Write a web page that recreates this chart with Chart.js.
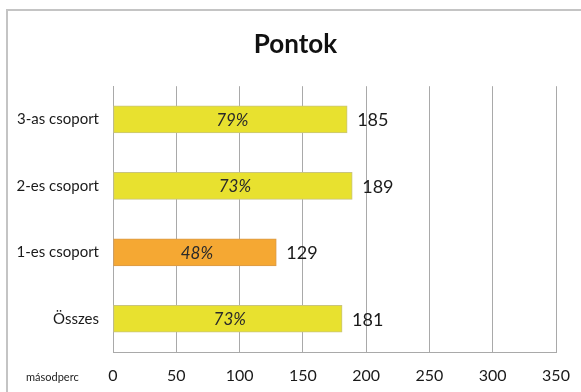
<!DOCTYPE html>
<html>
<head>
<meta charset="utf-8">
<script src="https://cdn.jsdelivr.net/npm/chart.js@4"></script>
<style>
  html, body { margin: 0; padding: 0; background: #fff; overflow: hidden; }
  #wrap { position: relative; width: 581px; height: 392px; overflow: hidden; }
  #frame { position: absolute; left: 6px; top: 9px; width: 700px; height: 500px; border-left: 2px solid #c4c4c4; border-top: 2px solid #c4c4c4; }
  canvas { position: absolute; left: 0; top: 0; }
</style>
</head>
<body>
<div id="wrap">
  <div id="frame"></div>
  <canvas id="chart" width="581" height="392"></canvas>
</div>
<script>
const categories = ['3-as csoport', '2-es csoport', '1-es csoport', 'Összes'];
const seconds = [185, 189, 129, 181];
const shares = ['79%', '73%', '48%', '73%'];
const xTicks = [0, 50, 100, 150, 200, 250, 300, 350];
const axisUnit = 'másodperc';

const yellow = '#e8e12f';
const orange = '#f5a833';
const barColors = [yellow, yellow, orange, yellow];
const edgeColors = ['#c9c47e', '#c9c47e', '#d99a4a', '#c9c47e'];
const gridColor = '#a9a9a9';

// value + percentage labels, and the unit text left of the x ticks
const barLabels = {
  id: 'barLabels',
  afterDatasetsDraw(chart) {
    const ctx = chart.ctx;
    const meta = chart.getDatasetMeta(0);
    ctx.save();
    ctx.textBaseline = 'middle';
    meta.data.forEach((bar, i) => {
      ctx.font = 'italic 17px Lato';
      ctx.fillStyle = '#2a2a2a';
      ctx.textAlign = 'center';
      ctx.fillText(shares[i], (bar.x + bar.base) / 2 + 2, bar.y + 1);
      ctx.font = '18px Lato';
      ctx.fillStyle = '#1a1a1a';
      ctx.textAlign = 'left';
      ctx.fillText(String(seconds[i]), bar.x + 10, bar.y + 1);
    });
    ctx.font = '11px Lato';
    ctx.fillStyle = '#222';
    ctx.textAlign = 'left';
    ctx.fillText(axisUnit, 26, chart.chartArea.bottom + 25);
    ctx.restore();
  }
};

function draw() {
  Chart.defaults.font.family = 'Lato';
  new Chart(document.getElementById('chart'), {
    type: 'bar',
    data: {
      labels: categories,
      datasets: [{
        data: seconds,
        backgroundColor: barColors,
        borderColor: edgeColors,
        borderWidth: 1,
        borderSkipped: false,
        barThickness: 27
      }]
    },
    options: {
      indexAxis: 'y',
      responsive: false,
      animation: false,
      layout: { padding: { left: 10, right: 0, top: 0, bottom: 0 } },
      plugins: {
        legend: { display: false },
        tooltip: { enabled: false },
        title: {
          display: true,
          text: 'Pontok',
          color: '#111',
          font: { family: 'Lato', size: 26, weight: 'bold' },
          padding: { top: 29, bottom: 26 }
        }
      },
      scales: {
        x: {
          min: 0,
          max: 350,
          afterBuildTicks(s) { s.ticks = xTicks.map(v => ({ value: v })); },
          afterFit(s) { s.height = 40; s.paddingRight = 25; },
          grid: { color: gridColor, lineWidth: 1, drawTicks: false },
          border: { display: true, color: gridColor, width: 1 },
          ticks: { color: '#1a1a1a', font: { size: 16 }, padding: 14 }
        },
        y: {
          afterFit(s) { s.width = 103; },
          grid: { display: false, drawTicks: false },
          border: { display: true, color: gridColor, width: 1 },
          ticks: { color: '#1a1a1a', font: { size: 15 }, padding: 14 }
        }
      }
    },
    plugins: [barLabels]
  });
}

Promise.all([
  document.fonts.load('bold 26px Lato'),
  document.fonts.load('16px Lato'),
  document.fonts.load('italic 16px Lato')
]).then(draw, draw);
</script>
</body>
</html>
